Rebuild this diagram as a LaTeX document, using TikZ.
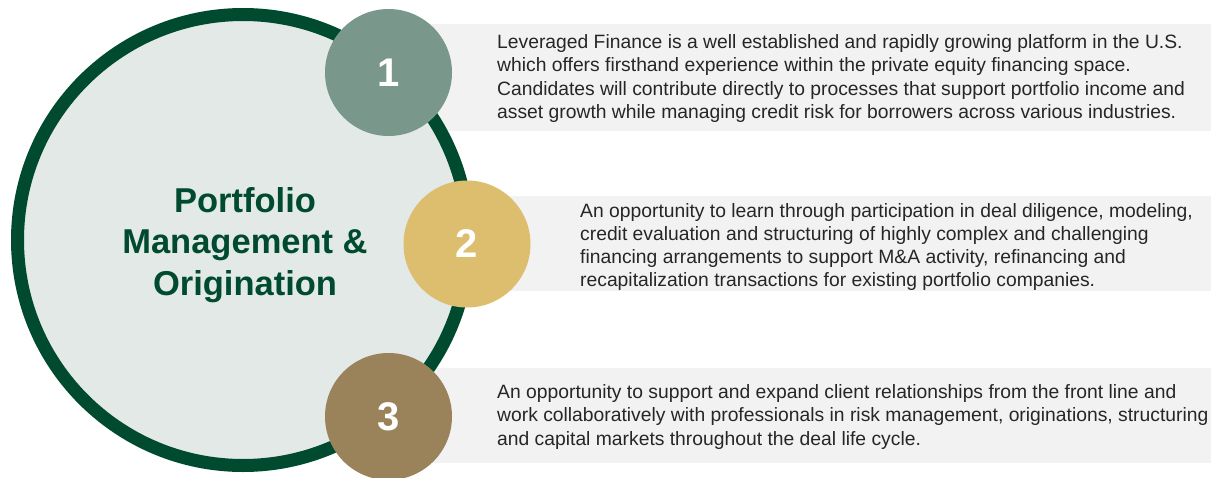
\documentclass[tikz,border=0pt]{standalone}
\usepackage{fontspec}
\setmainfont{Liberation Sans}
\definecolor{ringgreen}{RGB}{0,75,48}
\definecolor{hubfill}{RGB}{226,233,230}
\definecolor{panelgray}{RGB}{242,242,242}
\definecolor{numone}{RGB}{122,151,140}
\definecolor{numtwo}{RGB}{221,189,110}
\definecolor{numthree}{RGB}{154,131,90}
\definecolor{bodytext}{RGB}{38,38,38}
\tikzset{
  panel/.style={fill=panelgray, draw=none},
  hub/.style={circle, draw=ringgreen, line width=13pt, fill=hubfill, minimum size=451pt, inner sep=0pt},
  hubtitle/.style={text=ringgreen, align=center, inner sep=0pt, font=\fontsize{34.5}{41.5}\selectfont\bfseries},
  numdot/.style={circle, minimum size=127pt, inner sep=0pt, text=white, font=\fontsize{40}{44}\selectfont\bfseries},
  bodytxt/.style={anchor=west, align=left, inner sep=0pt, text=bodytext, font=\fontsize{19.3}{23.3}\selectfont}
}
\begin{document}
\begin{tikzpicture}[x=1pt,y=-1pt]
\useasboundingbox (0,0) rectangle (1211,477);
\fill[panel] (388,24) rectangle (1211,131);
\fill[panel] (467,196) rectangle (1211,291);
\fill[panel] (388,368) rectangle (1211,463);
\node[hub] (hub) at (243,240) {};
\node[hubtitle] (title) at (245,245) {Portfolio\\Management \&\\Origination};
\node[numdot, fill=numone] (n1) at (388.5,72.5) {1};
\node[numdot, fill=numtwo] (n2) at (467,244) {2};
\node[numdot, fill=numthree] (n3) at (388.5,416.5) {3};
\node[bodytxt] (t1) at (497,78.5) {Leveraged Finance is a well established and rapidly growing platform in the U.S.\\which offers firsthand experience within the private equity financing space.\\Candidates will contribute directly to processes that support portfolio income and\\asset growth while managing credit risk for borrowers across various industries.};
\node[bodytxt] (t2) at (580,247) {An opportunity to learn through participation in deal diligence, modeling,\\credit evaluation and structuring of highly complex and challenging\\financing arrangements to support M\&A activity, refinancing and\\recapitalization transactions for existing portfolio companies.};
\node[bodytxt] (t3) at (497,417) {An opportunity to support and expand client relationships from the front line and\\work collaboratively with professionals in risk management, originations, structuring\\and capital markets throughout the deal life cycle.};
\end{tikzpicture}
\end{document}
